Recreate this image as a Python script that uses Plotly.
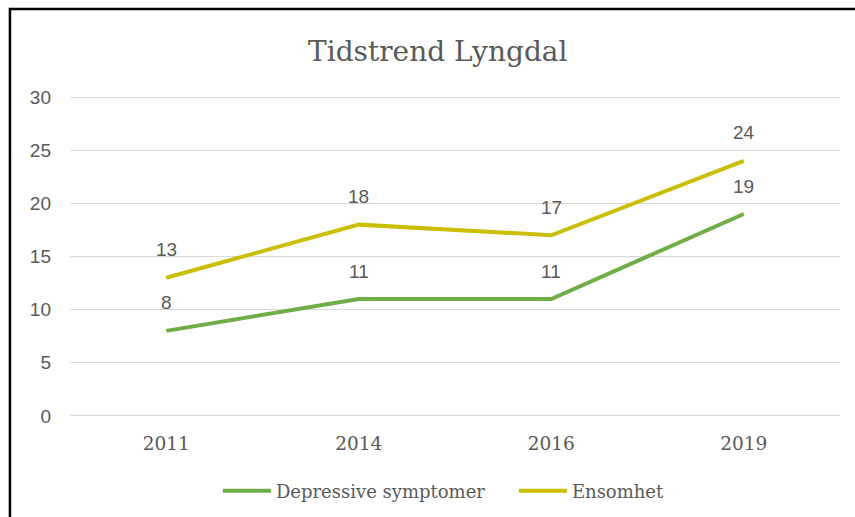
import plotly.graph_objects as go

years = ["2011", "2014", "2016", "2019"]
depressive = [8, 11, 11, 19]
ensomhet = [13, 18, 17, 24]
series_names = ["Depressive symptomer", "Ensomhet"]
y_ticks = [0, 5, 10, 15, 20, 25, 30]

GREEN = "#70AD47"
YELLOW = "#CBBE00"
TEXT = "#595959"
SERIF = "DejaVu Serif"
SANS = "Liberation Sans"

fig = go.Figure()
for name, vals, col in [(series_names[0], depressive, GREEN), (series_names[1], ensomhet, YELLOW)]:
    fig.add_trace(go.Scatter(x=years, y=vals, mode="lines", name=name,
                             line=dict(color=col, width=4)))
    for i, yv in enumerate(vals):
        fig.add_annotation(x=i, y=yv, xref="x", yref="y", text=str(yv), showarrow=False,
                           yshift=28, font=dict(family=SANS, size=19, color=TEXT))

# chart frame (extends past the right and bottom edges, as in the reference)
fig.add_shape(type="rect", xref="paper", yref="paper",
              x0=-0.078, x1=1.2, y0=-0.6, y1=1.266,
              line=dict(color="black", width=2.5), fillcolor="rgba(0,0,0,0)", layer="above")

fig.update_layout(
    width=855, height=517,
    margin=dict(l=70, r=15, t=95, b=99, autoexpand=False),
    paper_bgcolor="white", plot_bgcolor="white",
    title=dict(text="Tidstrend Lyngdal", x=0.512, xref="container", xanchor="center",
               y=1 - 51 / 517, yref="container", yanchor="middle",
               font=dict(family=SERIF, size=28, color=TEXT)),
    xaxis=dict(type="category", range=[-0.5, 3.5], showgrid=False, showline=False,
               zeroline=False, ticks="", ticklabelstandoff=12,
               tickfont=dict(family=SERIF, size=18.5, color=TEXT)),
    yaxis=dict(range=[-0.2, 30.2], tickvals=y_ticks, showgrid=True, gridcolor="#D9D9D9",
               gridwidth=1, zeroline=False, showline=False, ticks="",
               ticklabelstandoff=18,
               tickfont=dict(family=SANS, size=19, color=TEXT)),
    legend=dict(orientation="h", x=0.5765, xanchor="center",
                y=1 - 491 / 517, yref="container", yanchor="middle",
                font=dict(family=SERIF, size=18, color=TEXT), itemwidth=48,
                entrywidth=233, entrywidthmode="pixels",
                traceorder="normal"),
    showlegend=True,
)

fig.write_html("out.html", config={"displayModeBar": False},
               post_script="document.body.style.margin='0';document.body.style.padding='0';")
